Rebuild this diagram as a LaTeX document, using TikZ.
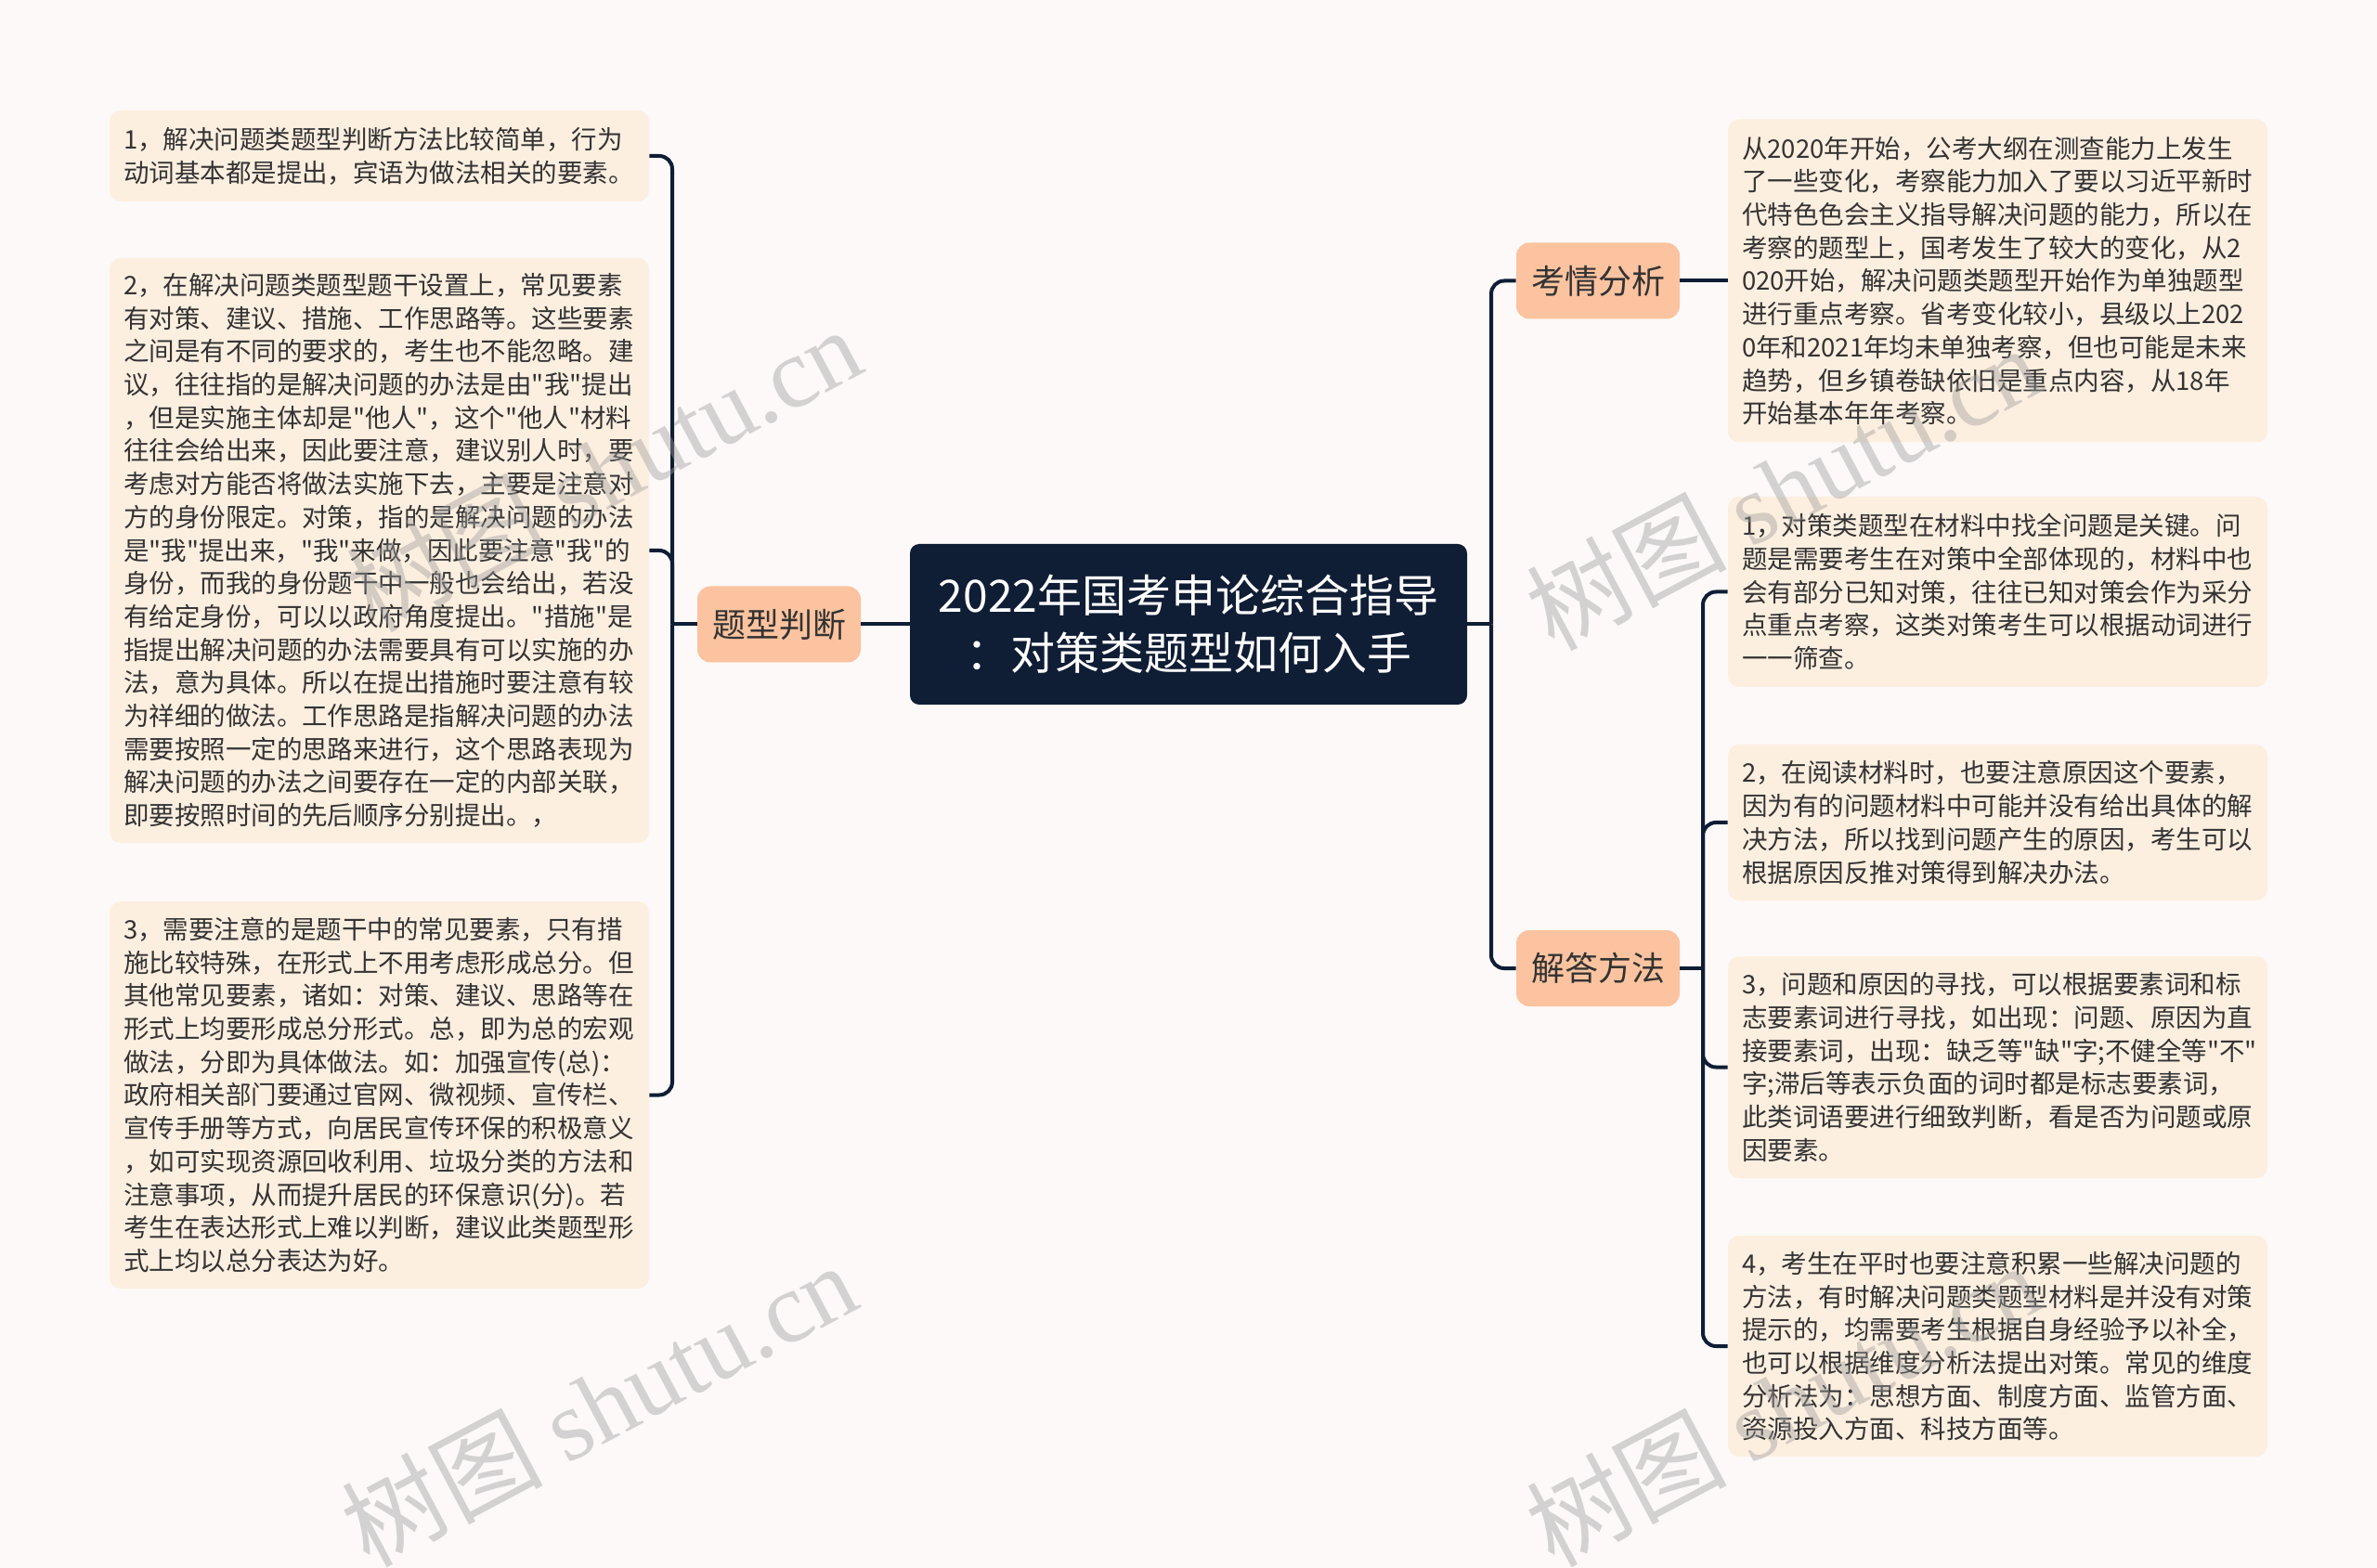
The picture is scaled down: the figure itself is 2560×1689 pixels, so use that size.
\documentclass[tikz,border=0pt]{standalone}
\usepackage{fontspec}
\setmainfont{Noto Sans CJK SC}[Ligatures=TeXOff]
\newfontfamily\wmlatin{Liberation Serif}
\newfontfamily\wmcjk{Noto Sans CJK SC}
\definecolor{bgc}{HTML}{FCF9F8}
\definecolor{leaffill}{HTML}{FDEFE0}
\definecolor{lonefill}{HTML}{FBC39F}
\definecolor{navy}{HTML}{0F1D35}
\definecolor{txtdark}{HTML}{333333}
\definecolor{wmgray}{HTML}{9C9C9C}
\begin{document}
\begin{tikzpicture}[x=0.5pt,y=-0.5pt,
  leafbox/.style={fill=leaffill, rounded corners=6pt, text width=275.5pt,
    inner xsep=7.5pt, inner ysep=0pt, align=left, text=txtdark,
    font=\fontsize{13.75pt}{17.85pt}\selectfont},
  lonebox/.style={fill=lonefill, rounded corners=7pt, minimum width=88pt,
    minimum height=41pt, inner sep=0pt, text=txtdark,
    font=\fontsize{18pt}{22pt}\selectfont},
  rootbox/.style={fill=navy, rounded corners=5pt, minimum width=300pt,
    minimum height=86.5pt, inner sep=0pt, align=center, text=white,
    font=\fontsize{24pt}{31pt}\selectfont},
  conn/.style={draw=navy, line width=2pt},
  rconn/.style={conn, rounded corners=7pt},
  wmark/.style={text=wmgray, opacity=0.42, rotate=28, inner sep=0pt,
    font=\fontsize{54pt}{58pt}\selectfont}]
\fill[bgc] (0,0) rectangle (2560,1689);
\useasboundingbox (0,0) rectangle (2560,1689);

% root and main branches
\node[rootbox] (c) at (1280,672.5) {2022年国考申论综合指导\\：对策类题型如何入手};
\node[lonebox] (tx) at (839,672.5) {题型判断};
\node[lonebox] (kq) at (1721,302.5) {考情分析};
\node[lonebox] (jd) at (1721,1043) {解答方法};

% left leaves
\node[leafbox, minimum height=49pt] (L1) at (408.5,168) {1，解决问题类题型判断方法比较简单，行为\\动词基本都是提出，宾语为做法相关的要素。};
\node[leafbox, minimum height=315pt] (L2) at (408.5,593) {2，在解决问题类题型题干设置上，常见要素\\
有对策、建议、措施、工作思路等。这些要素\\
之间是有不同的要求的，考生也不能忽略。建\\
议，往往指的是解决问题的办法是由"我"提出\\
，但是实施主体却是"他人"，这个"他人"材料\\
往往会给出来，因此要注意，建议别人时，要\\
考虑对方能否将做法实施下去，主要是注意对\\
方的身份限定。对策，指的是解决问题的办法\\
是"我"提出来，"我"来做，因此要注意"我"的\\
身份，而我的身份题干中一般也会给出，若没\\
有给定身份，可以以政府角度提出。"措施"是\\
指提出解决问题的办法需要具有可以实施的办\\
法，意为具体。所以在提出措施时要注意有较\\
为祥细的做法。工作思路是指解决问题的办法\\
需要按照一定的思路来进行，这个思路表现为\\
解决问题的办法之间要存在一定的内部关联，\\
即要按照时间的先后顺序分别提出。，};
\node[leafbox, minimum height=208.5pt] (L3) at (408.5,1179.5) {3，需要注意的是题干中的常见要素，只有措\\
施比较特殊，在形式上不用考虑形成总分。但\\
其他常见要素，诸如：对策、建议、思路等在\\
形式上均要形成总分形式。总，即为总的宏观\\
做法，分即为具体做法。如：加强宣传(总)：\\
政府相关部门要通过官网、微视频、宣传栏、\\
宣传手册等方式，向居民宣传环保的积极意义\\
，如可实现资源回收利用、垃圾分类的方法和\\
注意事项，从而提升居民的环保意识(分)。若\\
考生在表达形式上难以判断，建议此类题型形\\
式上均以总分表达为好。};

% right leaves
\node[leafbox, minimum height=174pt] (R0) at (2151.5,302.5) {从2020年开始，公考大纲在测查能力上发生\\
了一些变化，考察能力加入了要以习近平新时\\
代特色色会主义指导解决问题的能力，所以在\\
考察的题型上，国考发生了较大的变化，从2\\
020开始，解决问题类题型开始作为单独题型\\
进行重点考察。省考变化较小，县级以上202\\
0年和2021年均未单独考察，但也可能是未来\\
趋势，但乡镇卷缺依旧是重点内容，从18年\\
开始基本年年考察。};
\node[leafbox, minimum height=102.5pt] (R1) at (2151.5,637.5) {1，对策类题型在材料中找全问题是关键。问\\
题是需要考生在对策中全部体现的，材料中也\\
会有部分已知对策，往往已知对策会作为采分\\
点重点考察，这类对策考生可以根据动词进行\\
一一筛查。};
\node[leafbox, minimum height=84pt] (R2) at (2151.5,886) {2，在阅读材料时，也要注意原因这个要素，\\
因为有的问题材料中可能并没有给出具体的解\\
决方法，所以找到问题产生的原因，考生可以\\
根据原因反推对策得到解决办法。};
\node[leafbox, minimum height=119.5pt] (R3) at (2151.5,1149.5) {3，问题和原因的寻找，可以根据要素词和标\\
志要素词进行寻找，如出现：问题、原因为直\\
接要素词，出现：缺乏等"缺"字;不健全等"不"\\
字;滞后等表示负面的词时都是标志要素词，\\
此类词语要进行细致判断，看是否为问题或原\\
因要素。};
\node[leafbox, minimum height=119pt] (R4) at (2151.5,1450) {4，考生在平时也要注意积累一些解决问题的\\
方法，有时解决问题类题型材料是并没有对策\\
提示的，均需要考生根据自身经验予以补全，\\
也可以根据维度分析法提出对策。常见的维度\\
分析法为：思想方面、制度方面、监管方面、\\
资源投入方面、科技方面等。};

% connectors left
\coordinate (lb) at (724,672.5);
\draw[conn] (c.west) -- (tx.east);
\draw[conn] (tx.west) -- (lb);
\draw[rconn] (lb) |- (L1.east);
\draw[rconn] (lb) |- (L2.east);
\draw[rconn] (lb) |- (L3.east);

% connectors right
\coordinate (rb) at (1606,672.5);
\draw[conn] (c.east) -- (rb);
\draw[rconn] (rb) |- (kq.west);
\draw[rconn] (rb) |- (jd.west);
\draw[conn] (kq.east) -- (R0.west);
\coordinate (jb) at (1834,1043);
\draw[conn] (jd.east) -- (jb);
\draw[rconn] (jb) |- (R1.west);
\draw[rconn] (jb) |- (R2.west);
\draw[rconn] (jb) |- (R3.west);
\draw[rconn] (jb) |- (R4.west);

% watermarks
\node[wmark] (w1) at (650,505) {\wmcjk 树图 \wmlatin shutu.cn};
\node[wmark] (w2) at (645,1512) {\wmcjk 树图 \wmlatin shutu.cn};
\node[wmark] (w3) at (1920,525) {\wmcjk 树图 \wmlatin shutu.cn};
\node[wmark] (w4) at (1920,1512) {\wmcjk 树图 \wmlatin shutu.cn};
\end{tikzpicture}
\end{document}
